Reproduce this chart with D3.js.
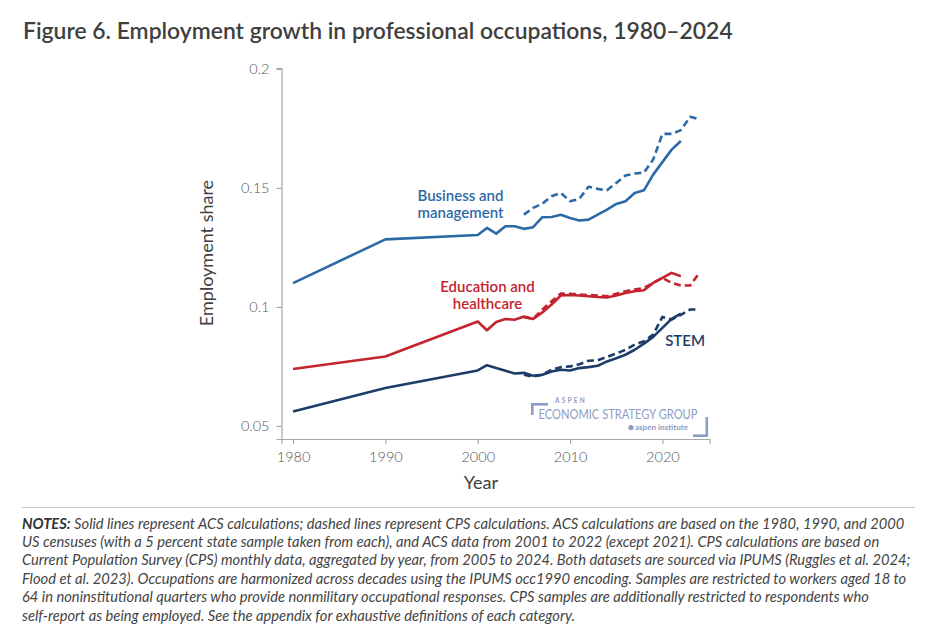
<!DOCTYPE html>
<html>
<head>
<meta charset="utf-8">
<script src="https://cdn.jsdelivr.net/npm/d3@7"></script>
<style>
  html, body { margin: 0; padding: 0; background: #fff; }
  svg { display: block; font-family: Lato, "Noto Sans", sans-serif; }
</style>
</head>
<body>
<svg id="chart" width="936" height="640"></svg>
<script>
// ---- Data ----
const acsYears = [1980, 1990, 2000, 2001, 2002, 2003, 2004, 2005, 2006, 2007, 2008, 2009,
                  2010, 2011, 2012, 2013, 2014, 2015, 2016, 2017, 2018, 2019, 2021, 2022];
const cpsYears = [2005, 2006, 2007, 2008, 2009, 2010, 2011, 2012, 2013, 2014, 2015, 2016,
                  2017, 2018, 2019, 2020, 2021, 2022, 2023, 2024];

const businessACS = [0.1100, 0.1284, 0.1302, 0.1332, 0.1308, 0.1339, 0.1339, 0.1328, 0.1335, 0.1377,
                     0.1378, 0.1387, 0.1374, 0.1363, 0.1367, 0.1388, 0.1409, 0.1433, 0.1444, 0.1479,
                     0.1490, 0.1556, 0.1661, 0.1697];
const educationACS = [0.0739, 0.0792, 0.0939, 0.0902, 0.0937, 0.0949, 0.0946, 0.0960, 0.0949, 0.0977,
                      0.1010, 0.1048, 0.1050, 0.1048, 0.1045, 0.1042, 0.1040, 0.1048, 0.1059, 0.1066,
                      0.1070, 0.1101, 0.1143, 0.1129];
const stemACS = [0.0561, 0.0659, 0.0733, 0.0755, 0.0743, 0.0732, 0.0720, 0.0723, 0.0711, 0.0715,
                 0.0729, 0.0736, 0.0733, 0.0743, 0.0747, 0.0753, 0.0771, 0.0784, 0.0799, 0.0820,
                 0.0846, 0.0874, 0.0950, 0.0972];

const businessCPS = [0.1388, 0.1416, 0.1434, 0.1465, 0.1479, 0.1444, 0.1454, 0.1505, 0.1496, 0.1490,
                     0.1521, 0.1552, 0.1561, 0.1564, 0.1619, 0.1727, 0.1727, 0.1743, 0.1799, 0.1788];
const educationCPS = [0.0957, 0.0950, 0.0989, 0.1024, 0.1056, 0.1055, 0.1052, 0.1050, 0.1048, 0.1045,
                      0.1055, 0.1066, 0.1073, 0.1080, 0.1101, 0.1122, 0.1101, 0.1090, 0.1090, 0.1143];
const stemCPS = [0.0715, 0.0707, 0.0715, 0.0736, 0.0747, 0.0750, 0.0759, 0.0774, 0.0776, 0.0790,
                 0.0804, 0.0820, 0.0842, 0.0856, 0.0884, 0.0958, 0.0947, 0.0967, 0.0989, 0.0989];

const xTicks = [1980, 1990, 2000, 2010, 2020];
const yTicks = [0.05, 0.1, 0.15, 0.2];
const yTickLabels = ["0.05", "0.1", "0.15", "0.2"];

const seriesNames = ["Business and management", "Education and healthcare", "STEM"];
const seriesLabelLines = [["Business and", "management"], ["Education and", "healthcare"], ["STEM"]];
const seriesColors = ["#2c6aa6", "#c4232f", "#1d3d69"];

const titleText = "Figure 6. Employment growth in professional occupations, 1980–2024";
const notesLines = [
  "Solid lines represent ACS calculations; dashed lines represent CPS calculations. ACS calculations are based on the 1980, 1990, and 2000",
  "US censuses (with a 5 percent state sample taken from each), and ACS data from 2001 to 2022 (except 2021). CPS calculations are based on",
  "Current Population Survey (CPS) monthly data, aggregated by year, from 2005 to 2024. Both datasets are sourced via IPUMS (Ruggles et al. 2024;",
  "Flood et al. 2023). Occupations are harmonized across decades using the IPUMS occ1990 encoding. Samples are restricted to workers aged 18 to",
  "64 in noninstitutional quarters who provide nonmilitary occupational responses. CPS samples are additionally restricted to respondents who",
  "self-report as being employed. See the appendix for exhaustive definitions of each category."
];

// ---- Layout ----
const svg = d3.select("#chart");
const plot = { left: 281.5, right: 709.5, top: 68, bottom: 439 };

const x = d3.scaleLinear().domain([1978.75, 2025.1]).range([plot.left, plot.right]);
const y = d3.scaleLinear().domain([0.0445, 0.2004]).range([plot.bottom, plot.top]);

// Title
const title = svg.append("text")
  .attr("x", 23).attr("y", 38.5)
  .attr("fill", "#3f3f3f")
  .attr("font-size", 22).attr("font-weight", 600)
  .text(titleText);
(function fit() {
  const w = title.node().getComputedTextLength();
  const target = 710;
  title.attr("font-size", 22 * target / w);
})();

// Axes
const axisColor = "#a8a8a8";
const tickTextColor = "#555";

const xAxis = svg.append("g")
  .attr("transform", `translate(0,${plot.bottom})`)
  .call(d3.axisBottom(x).tickValues(xTicks).tickFormat(d3.format("d")).tickSizeOuter(0).tickSize(5).tickPadding(5));
const yAxis = svg.append("g")
  .attr("transform", `translate(${plot.left},0)`)
  .call(d3.axisLeft(y).tickValues(yTicks).tickFormat((d, i) => yTickLabels[i]).tickSizeOuter(0).tickSize(5).tickPadding(7));

[xAxis, yAxis].forEach(g => {
  g.select(".domain").attr("stroke", axisColor).attr("stroke-width", 1.2);
  g.selectAll(".tick line").attr("stroke", axisColor).attr("stroke-width", 1.2);
  g.selectAll(".tick text").attr("fill", tickTextColor)
    .attr("font-family", "Lato, sans-serif").attr("font-size", 14.5).attr("font-weight", 300);
});
xAxis.selectAll(".tick text").attr("dy", "0.9em");

// Axis titles
svg.append("text")
  .attr("x", 481).attr("y", 489)
  .attr("text-anchor", "middle")
  .attr("fill", "#404040").attr("font-size", 18).attr("font-weight", 400)
  .text("Year");
svg.append("text")
  .attr("transform", "translate(213,253) rotate(-90)")
  .attr("text-anchor", "middle")
  .attr("fill", "#404040").attr("font-size", 18).attr("font-weight", 400)
  .text("Employment share");

// Logo (Aspen Economic Strategy Group)
const logoColor = "#8e9cc4";
const logo = svg.append("g");
logo.append("rect").attr("x", 531).attr("y", 403).attr("width", 17).attr("height", 2.6).attr("fill", logoColor);
logo.append("rect").attr("x", 531).attr("y", 403).attr("width", 2.6).attr("height", 12).attr("fill", logoColor);
logo.append("rect").attr("x", 705.5).attr("y", 417).attr("width", 2.6).attr("height", 20).attr("fill", logoColor);
logo.append("rect").attr("x", 693).attr("y", 434.4).attr("width", 15).attr("height", 2.6).attr("fill", logoColor);
logo.append("text").attr("x", 555).attr("y", 402.5)
  .attr("fill", logoColor).attr("font-size", 6.5).attr("font-weight", 700).attr("letter-spacing", 2.2)
  .text("ASPEN");
const est = logo.append("text").attr("x", 538.5).attr("y", 419.3)
  .attr("fill", logoColor).attr("font-size", 14).attr("font-weight", 400)
  .text("ECONOMIC STRATEGY GROUP");
est.attr("textLength", 159).attr("lengthAdjust", "spacingAndGlyphs");
logo.append("circle").attr("cx", 631).attr("cy", 427.5).attr("r", 2.6).attr("fill", logoColor);
logo.append("text").attr("x", 635).attr("y", 429.8)
  .attr("fill", logoColor).attr("font-size", 7).attr("font-weight", 700)
  .attr("textLength", 53).attr("lengthAdjust", "spacingAndGlyphs")
  .text("aspen institute");

// Lines
const line = d3.line().x(d => x(d[0])).y(d => y(d[1])).curve(d3.curveLinear);
const acsSeries = [businessACS, educationACS, stemACS];
const cpsSeries = [businessCPS, educationCPS, stemCPS];

const linesG = svg.append("g").attr("fill", "none").attr("stroke-linejoin", "round");
[2, 1, 0].forEach(i => {
  linesG.append("path")
    .datum(acsYears.map((yr, j) => [yr, acsSeries[i][j]]))
    .attr("d", line)
    .attr("stroke", seriesColors[i]).attr("stroke-width", 2.6);
  linesG.append("path")
    .datum(cpsYears.map((yr, j) => [yr, cpsSeries[i][j]]))
    .attr("d", line)
    .attr("stroke", seriesColors[i]).attr("stroke-width", 2.6)
    .attr("stroke-dasharray", "7,4");
});

// Series labels
const labelPos = [
  { cx: 460.5, y0: 201, anchor: "middle" },
  { cx: 487.5, y0: 292, anchor: "middle" },
  { cx: 705, y0: 346, anchor: "end" }
];
seriesLabelLines.forEach((lines, i) => {
  const t = svg.append("text")
    .attr("fill", seriesColors[i]).attr("font-size", 15).attr("font-weight", 600)
    .attr("text-anchor", labelPos[i].anchor);
  lines.forEach((s, k) => {
    t.append("tspan").attr("x", labelPos[i].cx).attr("y", labelPos[i].y0 + k * 16.5).text(s);
  });
});

// Separator and notes
svg.append("line")
  .attr("x1", 22).attr("x2", 915).attr("y1", 507.5).attr("y2", 507.5)
  .attr("stroke", "#c8c8c8").attr("stroke-width", 1.2);

const notesG = svg.append("g").attr("fill", "#444").attr("font-style", "italic");
notesLines.forEach((s, k) => {
  const t = notesG.append("text")
    .attr("x", 22).attr("y", 528.5 + k * 18.4)
    .attr("font-size", 13).attr("font-weight", 400);
  if (k === 0) {
    t.append("tspan").attr("font-weight", 700).attr("fill", "#333").text("NOTES:");
    t.append("tspan").text(" " + s);
  } else {
    t.text(s);
  }
});
// scale notes font so the first line spans the same width as the reference
(function fitNotes() {
  const first = notesG.select("text").node();
  const w = first.getComputedTextLength();
  const fs = 13 * 883 / w;
  notesG.selectAll("text").attr("font-size", fs);
})();
</script>
</body>
</html>
